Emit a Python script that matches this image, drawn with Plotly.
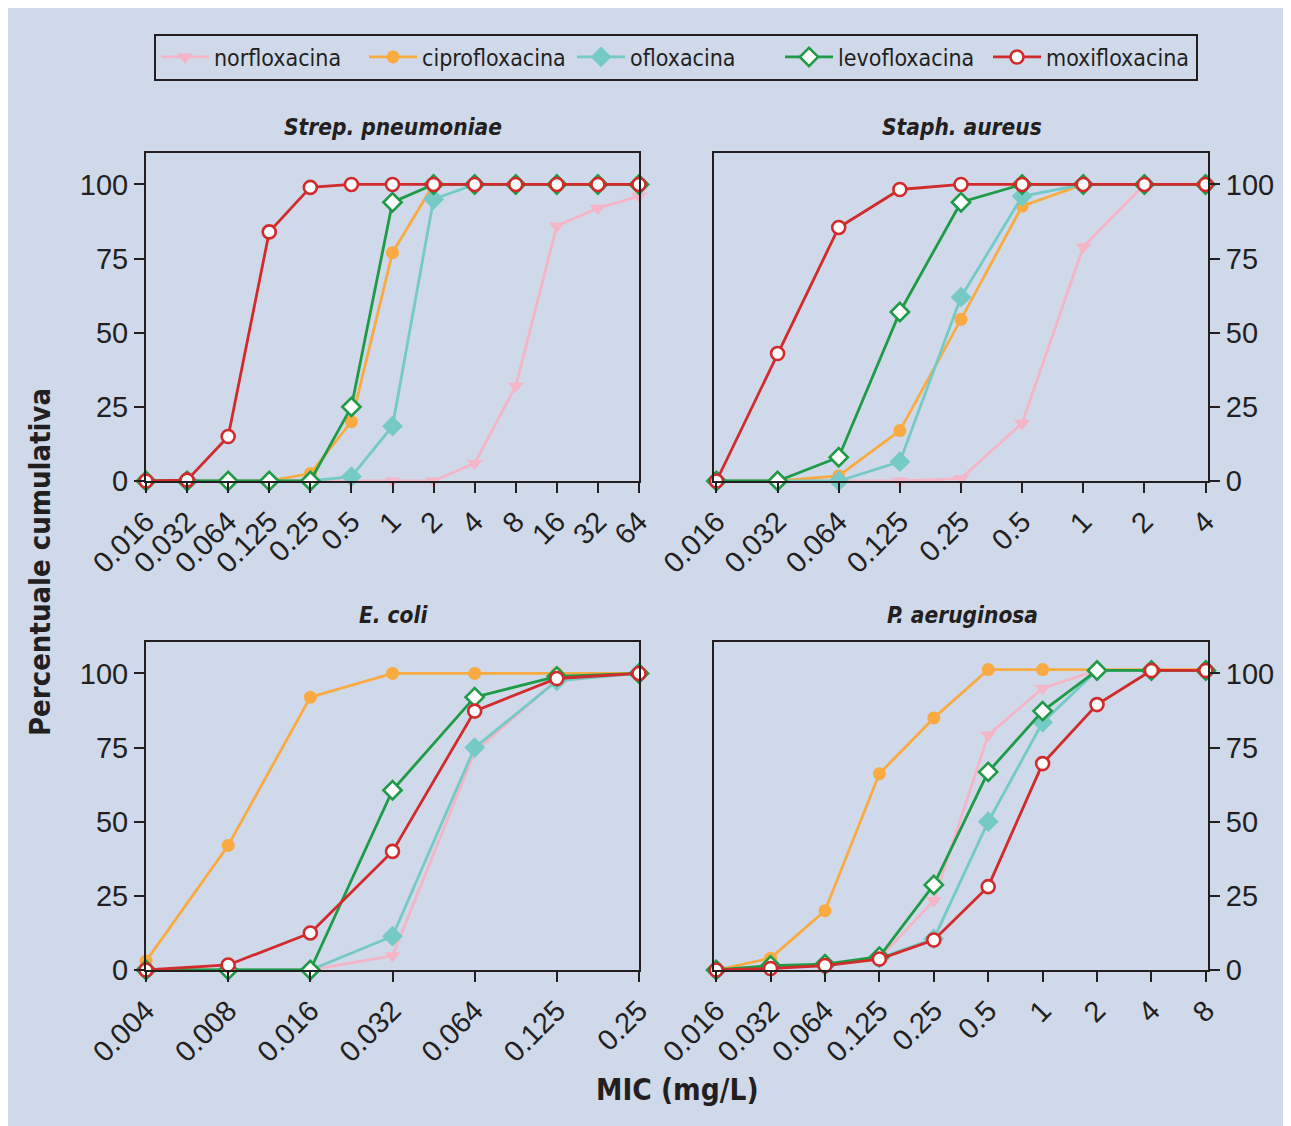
import plotly.graph_objects as go

# ---------------- data ----------------
drugs = ["norfloxacina", "ciprofloxacina", "ofloxacina", "levofloxacina", "moxifloxacina"]

cats_strep = ["0.016", "0.032", "0.064", "0.125", "0.25", "0.5", "1", "2", "4", "8", "16", "32", "64"]
strep_norflo = [0, 0, 0, 0, 0, 0, 0, 0, 6, 32, 86, 92, 96]
strep_cipro = [0, 0, 0, 0, 2.5, 20, 77, 100, 100, 100, 100, 100, 100]
strep_oflo = [0, 0, 0, 0, 0, 1.5, 18.5, 95, 100, 100, 100, 100, 100]
strep_levo = [0, 0, 0, 0, 0, 25, 94, 100, 100, 100, 100, 100, 100]
strep_moxi = [0, 0.3, 15, 84, 99, 100, 100, 100, 100, 100, 100, 100, 100]

cats_staph = ["0.016", "0.032", "0.064", "0.125", "0.25", "0.5", "1", "2", "4"]
staph_norflo = [0, 0, 0, 0, 0.8, 19.5, 79, 100, 100]
staph_cipro = [0, 0, 1.7, 17, 54.5, 92.7, 100, 100, 100]
staph_oflo = [0, 0, 0, 6.5, 62, 96, 100, 100, 100]
staph_levo = [0, 0, 8, 57, 94, 100, 100, 100, 100]
staph_moxi = [0, 43, 85.5, 98.3, 100, 100, 100, 100, 100]

cats_ecoli = ["0.004", "0.008", "0.016", "0.032", "0.064", "0.125", "0.25"]
ecoli_norflo = [0, 0, 0, 4.8, 73.5, 98, 100]
ecoli_cipro = [3, 42, 92, 100, 100, 100, 100]
ecoli_oflo = [0, 0, 0, 11.4, 75, 97.5, 100]
ecoli_levo = [0, 0, 0, 60.6, 92, 99, 100]
ecoli_moxi = [0, 1.7, 12.5, 40, 87.3, 98.3, 100]

cats_pseudo = ["0.016", "0.032", "0.064", "0.125", "0.25", "0.5", "1", "2", "4", "8"]
pseudo_norflo = [0, 1, 1.5, 4, 23.4, 79.2, 95, 101, 101, 101]
pseudo_cipro = [0, 4, 20, 66.2, 85, 101.3, 101.3, 101.3, 101.3, 101.3]
pseudo_oflo = [0, 1, 1.5, 4, 10.5, 50, 83.5, 101, 101, 101]
pseudo_levo = [0, 1.5, 2, 4.5, 28.7, 66.8, 87.3, 101, 101, 101]
pseudo_moxi = [0, 0.5, 1.5, 3.7, 10.1, 28.1, 69.6, 89.5, 101, 101]

panel_titles = ["Strep. pneumoniae", "Staph. aureus", "E. coli", "P. aeruginosa"]
y_ticks = [0, 25, 50, 75, 100]

panels = [
    (cats_strep, [strep_norflo, strep_cipro, strep_oflo, strep_levo, strep_moxi]),
    (cats_staph, [staph_norflo, staph_cipro, staph_oflo, staph_levo, staph_moxi]),
    (cats_ecoli, [ecoli_norflo, ecoli_cipro, ecoli_oflo, ecoli_levo, ecoli_moxi]),
    (cats_pseudo, [pseudo_norflo, pseudo_cipro, pseudo_oflo, pseudo_levo, pseudo_moxi]),
]

# ---------------- style ----------------
OFF = 8  # page body margin
W, H = 1291, 1126
BG = "#cfd9ea"
INK = "#231f20"
colors = ["#f4b5c7", "#f9ab42", "#75cac6", "#1f9a47", "#d12b2c"]
marker_styles = [
    dict(symbol="triangle-down", size=14, color=colors[0], line=dict(width=0)),
    dict(symbol="circle", size=13, color=colors[1], line=dict(width=0)),
    dict(symbol="diamond", size=16, color=colors[2], line=dict(width=0)),
    dict(symbol="diamond", size=14, color="white", line=dict(width=2.6, color=colors[3])),
    dict(symbol="circle", size=13, color="white", line=dict(width=2.6, color=colors[4])),
]
NARROW = "Liberation Sans Narrow, DejaVu Sans Condensed, sans-serif"
TICKF = "Liberation Sans, Arial, sans-serif"


def px_x(p):
    return (p - OFF) / W


def px_y(p):
    return 1 - (p - OFF) / H


domains = [
    ([px_x(146), px_x(639)], [px_y(481), px_y(153)]),
    ([px_x(714), px_x(1208)], [px_y(481), px_y(153)]),
    ([px_x(146), px_x(639)], [px_y(970), px_y(642)]),
    ([px_x(714), px_x(1208)], [px_y(970), px_y(642)]),
]

fig = go.Figure()
for i, (cats, series) in enumerate(panels):
    ax = "" if i == 0 else str(i + 1)
    for j, vals in enumerate(series):
        fig.add_trace(go.Scatter(
            x=cats, y=vals, mode="lines+markers", name=drugs[j],
            line=dict(color=colors[j], width=2.8),
            marker=marker_styles[j],
            xaxis="x" + ax, yaxis="y" + ax,
            showlegend=(i == 0), cliponaxis=False,
        ))

layout = dict(
    width=W, height=H,
    margin=dict(l=0, r=0, t=0, b=0, pad=0, autoexpand=False),
    paper_bgcolor=BG, plot_bgcolor=BG,
    showlegend=True,
    legend=dict(
        orientation="h", x=px_x(676), xanchor="center", y=px_y(57), yanchor="middle",
        bgcolor=BG, bordercolor=INK, borderwidth=2,
        font=dict(family=NARROW, size=23, color=INK),
        itemwidth=48, entrywidth=145, entrywidthmode="pixels",
    ),
    annotations=[],
)

for i, (cats, series) in enumerate(panels):
    ax = "" if i == 0 else str(i + 1)
    xd, yd = domains[i]
    right = i in (1, 3)
    n = len(cats)
    pad = 0.04 if right else 0.0
    layout["xaxis" + ax] = dict(
        domain=xd, anchor="y" + ax, type="category",
        categoryorder="array", categoryarray=cats,
        range=[-pad, n - 1 + pad], automargin=False,
        showline=True, linecolor=INK, linewidth=2, mirror=True,
        ticks="outside", ticklen=10, tickwidth=2, tickcolor=INK,
        tickangle=-45, showgrid=False, zeroline=False,
        tickfont=dict(family=TICKF, size=29, color=INK),
    )
    layout["yaxis" + ax] = dict(
        domain=yd, anchor="x" + ax, range=[0, 110.6], automargin=False,
        tickvals=y_ticks, side="right" if right else "left",
        showline=True, linecolor=INK, linewidth=2, mirror=True,
        ticks="outside", ticklen=10, tickwidth=2, tickcolor=INK,
        showgrid=False, zeroline=False,
        tickfont=dict(family=TICKF, size=29, color=INK),
    )

title_pos = [(393, 127), (962, 127), (393, 615), (962, 615)]
for t, (cx, cy) in zip(panel_titles, title_pos):
    layout["annotations"].append(dict(
        text="<b><i>" + t + "</i></b>", x=px_x(cx), y=px_y(cy),
        xref="paper", yref="paper", showarrow=False,
        xanchor="center", yanchor="middle",
        font=dict(family=NARROW, size=22.5, color=INK),
    ))

layout["annotations"].append(dict(
    text="<b>Percentuale cumulativa</b>", x=px_x(40), y=px_y(562),
    xref="paper", yref="paper", showarrow=False, textangle=-90,
    xanchor="center", yanchor="middle",
    font=dict(family=NARROW, size=29, color=INK),
))
layout["annotations"].append(dict(
    text="<b>MIC (mg/L)</b>", x=px_x(677), y=px_y(1090),
    xref="paper", yref="paper", showarrow=False,
    xanchor="center", yanchor="middle",
    font=dict(family=NARROW, size=29.5, color=INK),
))

fig.update_layout(**layout)
fig.write_html(
    "out.html",
    post_script="document.documentElement.style.overflow='hidden';document.body.style.overflow='hidden';",
)
